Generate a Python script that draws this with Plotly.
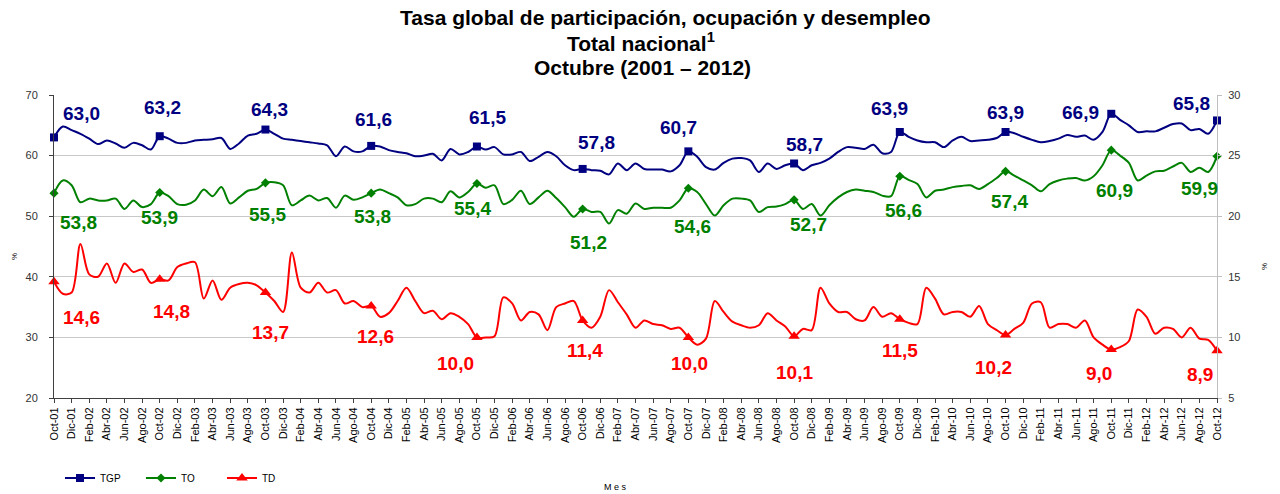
import plotly.graph_objects as go

# ---------------- data ----------------
month_abbr = ["Ene", "Feb", "Mar", "Abr", "May", "Jun", "Jul", "Ago", "Sep", "Oct", "Nov", "Dic"]
start_year, start_month, n_months = 2001, 10, 133
months = []
for k in range(n_months):
    m = (start_month - 1 + k) % 12
    y = start_year + (start_month - 1 + k) // 12
    months.append(f"{month_abbr[m]}-{y % 100:02d}")

tgp = [63.0, 64.8, 64.2, 63.6, 62.8, 61.9, 62.5, 62.0, 61.3, 62.1, 61.7, 61.0,
       63.2, 62.8, 62.1, 62.1, 62.5, 62.6, 62.7, 62.9, 61.1, 62.0, 63.3, 63.6,
       64.3, 63.6, 62.8, 62.6, 62.4, 62.2, 62.0, 61.7, 59.9, 61.5, 60.7, 60.7,
       61.6, 61.5, 60.9, 60.6, 60.4, 59.9, 60.0, 60.3, 59.2, 61.1, 60.2, 60.6,
       61.5, 61.0, 61.4, 60.2, 60.2, 60.6, 59.1, 59.8, 60.6, 59.9, 58.4, 57.6,
       57.8, 57.6, 57.5, 56.9, 58.7, 57.6, 58.7, 57.8, 57.7, 57.7, 57.4, 58.4,
       60.7, 59.8, 58.1, 57.7, 58.8, 59.5, 59.6, 59.2, 57.3, 58.7, 57.8, 58.4,
       58.7, 57.6, 58.4, 58.8, 59.5, 60.6, 61.4, 61.3, 61.1, 61.8, 60.4, 60.6,
       63.9, 63.1, 62.5, 62.2, 62.2, 61.4, 62.5, 63.1, 62.4, 62.5, 62.6, 62.9,
       63.9, 63.7, 63.1, 62.6, 62.2, 62.4, 62.8, 63.4, 63.1, 63.3, 62.6, 63.9,
       66.9, 65.9, 65.0, 63.9, 64.0, 64.0, 64.6, 65.2, 65.3, 64.2, 64.4, 63.6,
       65.8]

to = [53.8, 55.9, 55.1, 52.3, 52.9, 52.6, 52.6, 52.9, 51.2, 52.6, 51.5, 52.0,
      53.9, 53.3, 52.0, 51.9, 52.6, 54.4, 53.3, 54.8, 52.1, 53.1, 54.2, 54.5,
      55.5, 55.6, 55.1, 51.8, 52.6, 53.4, 52.6, 53.0, 51.4, 53.4, 52.7, 53.1,
      53.8, 54.4, 53.8, 53.1, 51.8, 52.0, 52.9, 52.9, 52.3, 54.1, 53.1, 54.0,
      55.4, 54.7, 55.1, 52.0, 52.7, 54.2, 52.0, 53.1, 54.2, 53.0, 51.5, 49.9,
      51.2, 50.7, 50.7, 48.8, 51.0, 50.4, 52.1, 51.2, 51.4, 51.4, 51.4, 52.6,
      54.6, 54.0, 52.0, 50.1, 51.8, 52.9, 52.9, 52.6, 50.7, 51.5, 51.6, 52.0,
      52.7, 51.2, 52.0, 50.1, 51.8, 53.1, 54.0, 54.4, 54.2, 54.0, 53.4, 53.3,
      56.6, 56.0, 55.3, 53.1, 54.2, 54.4, 54.8, 55.0, 55.1, 54.5, 55.3, 56.3,
      57.4, 56.7, 55.9, 55.1, 54.1, 55.3, 55.9, 56.2, 56.3, 55.9, 56.6, 58.4,
      60.9, 60.0, 58.8, 55.9, 56.7, 57.4, 57.5, 58.2, 58.8, 57.3, 58.0, 57.3,
      59.9]

td = [14.6, 13.6, 13.7, 17.7, 15.2, 15.0, 16.1, 14.5, 16.1, 15.4, 15.6, 14.5,
      14.8, 14.7, 15.8, 16.1, 16.2, 13.2, 14.7, 13.1, 14.1, 14.4, 14.5, 14.3,
      13.7, 13.0, 12.1, 17.0, 14.1, 13.7, 14.5, 13.7, 13.9, 12.8, 13.0, 12.5,
      12.6, 11.7, 12.0, 13.0, 14.1, 13.0, 12.0, 12.2, 11.5, 12.0, 11.7, 11.1,
      10.0, 10.0, 10.1, 13.3, 12.8, 11.4, 12.1, 11.9, 10.6, 12.5, 12.8, 13.0,
      11.4, 10.8, 11.7, 13.9, 12.9, 11.9, 10.8, 11.4, 11.1, 11.0, 10.7, 10.8,
      10.0, 9.4, 9.9, 13.0, 12.1, 11.3, 11.0, 10.8, 11.0, 12.0, 11.4, 10.9,
      10.1, 10.7, 10.6, 14.1, 12.8, 12.1, 12.1, 11.5, 11.4, 12.5, 11.7, 12.0,
      11.5, 11.2, 11.1, 14.1, 13.2, 11.9, 12.1, 12.1, 11.7, 12.6, 11.1, 10.6,
      10.2, 10.7, 11.2, 12.8, 12.9, 10.8, 11.1, 11.1, 10.8, 11.4, 10.0, 9.4,
      9.0, 9.2, 9.7, 12.3, 11.7, 10.3, 10.8, 10.7, 10.0, 10.8, 9.9, 9.8,
      8.9]

series_names = ["TGP", "TO", "TD"]
tick_labels = months[::2]
oct_idx = [i for i, m in enumerate(months) if m.startswith("Oct")]
title_lines = ["Tasa global de participación, ocupación y desempleo",
               "Total nacional<sup>1</sup>",
               "Octubre (2001 – 2012)"]

# ---------------- style ----------------
FONT = "Liberation Sans, Arial, sans-serif"
colors = {"TGP": "#000080", "TO": "#008000", "TD": "#FF0000"}
symbols = {"TGP": "square", "TO": "diamond", "TD": "triangle-up"}
msize = {"TGP": 8, "TO": 7, "TD": 10}
# label offsets (px) per October point: (xshift, yshift)
lab_off = {
    "TGP": [(27, 24), (3, 29), (4, 20), (2, 26), (11, 29), (14, 26), (-10, 24),
            (10, 19), (-10, 23), (0, 19), (-31, 1), (-26, 17)],
    "TO": [(24, -29), (0, -25), (2, -32), (1, -23), (-4, -25), (6, -34), (4, -38),
           (14, -25), (4, -34), (4, -30), (3, -40), (-18, -32)],
    "TD": [(27, -36), (12, -32), (5, -40), (4, -31), (-21, -26), (2, -30), (1, -26),
           (0, -36), (0, -31), (-12, -33), (-12, -24), (-17, -24)],
}
data = {"TGP": (tgp, "y"), "TO": (to, "y"), "TD": (td, "y2")}

W, H, L, R, T, B = 1280, 494, 54, 63, 95, 96
pw, ph = W - L - R, H - T - B
def px(xp):
    return (xp - L) / pw
def py(yp):
    return (H - B - yp) / ph

fig = go.Figure()
annotations = []
for name in series_names:
    vals, yax = data[name]
    c = colors[name]
    fig.add_trace(go.Scatter(x=months, y=vals, mode="lines", yaxis=yax,
                             line=dict(color=c, width=2, shape="spline", smoothing=0.9),
                             showlegend=False, name=name))
    fig.add_trace(go.Scatter(x=[months[i] for i in oct_idx], y=[vals[i] for i in oct_idx],
                             mode="markers", yaxis=yax, cliponaxis=False,
                             marker=dict(color=c, symbol=symbols[name], size=msize[name]),
                             showlegend=False, name=name))
    # legend entry
    fig.add_trace(go.Scatter(x=[None], y=[None], mode="lines+markers", name=name, yaxis=yax,
                             line=dict(color=c, width=2),
                             marker=dict(color=c, symbol=symbols[name], size=msize[name])))
    for k, i in enumerate(oct_idx):
        dx, dy = lab_off[name][k]
        annotations.append(dict(
            x=months[i], y=vals[i], xref="x", yref=yax,
            text="<b>" + f"{vals[i]:.1f}".replace(".", ",") + "</b>", showarrow=False,
            xshift=dx, yshift=dy,
            font=dict(family=FONT, size=19, color=c)))

# title lines (pixel centres)
title_pos = [(665, 18), (641, 42), (642, 67)]
for txt, (tx, ty) in zip(title_lines, title_pos):
    annotations.append(dict(text="<b>" + txt + "</b>", x=px(tx), y=py(ty), xref="paper",
                            yref="paper", xanchor="center", yanchor="middle", showarrow=False,
                            font=dict(family=FONT, size=21, color="#000")))

annotations += [
    dict(text="%", x=px(14), y=py(257), xref="paper", yref="paper", showarrow=False,
         textangle=-90, xanchor="center", yanchor="middle",
         font=dict(family=FONT, size=8, color="#000")),
    dict(text="%", x=px(1264), y=py(267), xref="paper", yref="paper", showarrow=False,
         textangle=-90, xanchor="center", yanchor="middle",
         font=dict(family=FONT, size=8, color="#000")),
    dict(text="M e s", x=px(615), y=py(487), xref="paper", yref="paper", showarrow=False,
         xanchor="center", yanchor="middle",
         font=dict(family=FONT, size=9, color="#000")),
]

fig.update_layout(
    width=W, height=H,
    margin=dict(l=L, r=R, t=T, b=B, autoexpand=False),
    paper_bgcolor="white", plot_bgcolor="white",
    xaxis=dict(type="category", categoryorder="array", categoryarray=months,
               range=[0, len(months) - 1], tickmode="array", tickvals=tick_labels,
               ticktext=tick_labels, tickangle=-90, showgrid=False, automargin=False,
               showline=True, linecolor="#404040", linewidth=1,
               ticks="outside", ticklen=4, tickcolor="#404040",
               tickfont=dict(family=FONT, size=11, color="#000")),
    yaxis=dict(range=[20, 70], dtick=10, showgrid=True, gridcolor="#C8C8C8",
               showline=True, linecolor="#404040", ticks="outside", ticklen=4,
               tickcolor="#404040", zeroline=False, ticklabelstandoff=9, automargin=False,
               tickfont=dict(family=FONT, size=11, color="#333")),
    yaxis2=dict(range=[5, 30], dtick=5, overlaying="y", side="right", showgrid=False,
                showline=True, linecolor="#BFBFBF", ticks="outside", ticklen=4,
                tickcolor="#BFBFBF", zeroline=False, ticklabelstandoff=4, automargin=False,
                tickfont=dict(family=FONT, size=11, color="#333")),
    legend=dict(orientation="h", x=px(60), xanchor="left", y=py(478), yanchor="middle",
                font=dict(family=FONT, size=10, color="#000"), bgcolor="rgba(0,0,0,0)",
                itemwidth=30, entrywidth=36, entrywidthmode="pixels"),
    annotations=annotations,
)

fig.write_html("out.html", config={"displayModeBar": False},
               post_script="document.body.style.margin='0';document.body.style.overflow='hidden';")
